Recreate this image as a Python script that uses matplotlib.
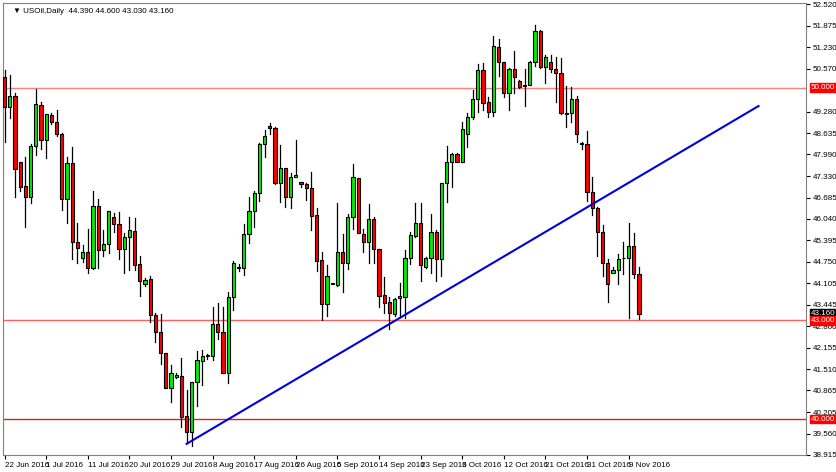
import matplotlib
matplotlib.use("Agg")
import matplotlib.pyplot as plt
from matplotlib.patches import Rectangle
from matplotlib import font_manager

names = {f.name for f in font_manager.fontManager.ttflist}
plt.rcParams['font.family'] = ['Liberation Sans Narrow' if 'Liberation Sans Narrow' in names else 'Liberation Sans', 'DejaVu Sans']

opens = [50.33,49.43,49.76,47.75,47.04,46.71,48.25,49.48,48.42,49.18,
         48.98,48.61,46.63,47.72,45.34,44.85,45.03,44.57,46.43,45.10,
         45.27,46.09,45.89,45.12,45.51,45.69,44.68,44.08,44.22,43.15,
         42.64,42.00,40.93,41.26,41.30,40.09,39.62,41.13,41.76,41.90,
         41.90,42.87,42.62,41.40,43.67,44.57,44.55,45.58,46.29,46.81,
         48.30,48.85,48.80,47.14,47.57,46.71,47.32,47.15,47.10,46.96,
         46.16,44.80,43.47,44.08,44.05,45.03,44.72,46.11,47.27,45.59,
         45.35,46.03,45.13,43.74,43.54,43.16,43.64,43.69,44.85,45.53,
         45.93,44.60,44.85,45.66,44.82,47.14,47.75,48.00,47.77,48.62,
         49.11,49.65,50.54,49.58,49.26,51.24,50.77,49.83,50.56,50.22,
         50.07,50.08,50.77,51.71,50.62,50.77,50.56,50.46,49.23,49.25,
         49.65,48.30,48.30,46.84,46.36,45.64,44.70,44.42,44.50,44.85,
         44.85,45.22,44.39]
highs = [50.54,50.39,49.83,47.75,47.92,48.30,49.95,49.58,49.20,49.23,
         49.33,48.63,47.92,48.22,45.93,45.25,45.73,46.88,46.63,45.71,
         46.28,46.21,46.25,45.61,46.09,46.06,44.92,44.25,44.32,43.21,
         43.17,42.00,41.63,41.38,41.83,40.88,41.13,42.06,42.08,41.96,
         43.37,43.49,43.37,43.82,44.77,44.67,45.89,46.71,46.89,48.32,
         48.73,48.93,48.82,48.27,47.57,47.42,48.42,47.17,47.14,47.45,
         46.36,45.05,44.65,44.09,46.53,45.58,46.19,47.70,47.27,45.73,
         46.49,46.09,45.13,44.30,43.69,43.66,44.10,45.10,45.66,46.51,
         46.51,44.90,46.19,45.71,47.14,48.25,48.02,48.02,48.98,49.25,
         49.93,50.71,50.74,49.73,51.56,51.46,50.79,50.59,51.11,50.24,
         50.56,50.82,51.90,51.74,50.99,50.99,50.92,50.89,50.05,50.01,
         49.76,48.37,48.71,47.30,46.41,45.85,44.82,44.60,44.98,45.35,
         45.93,45.61,44.60]
lows = [48.37,49.08,46.71,46.89,45.81,46.51,47.97,48.14,47.87,48.91,
        48.53,46.31,45.91,44.84,44.72,44.74,44.40,44.52,44.55,44.92,
        45.00,45.66,44.82,44.42,44.50,44.50,43.72,44.02,42.94,42.34,
        41.66,40.93,40.52,41.23,39.77,39.32,39.19,40.40,41.03,41.80,
        41.78,42.42,41.40,41.08,43.29,44.47,44.35,45.30,45.81,46.59,
        47.90,48.59,47.10,46.56,46.41,46.38,47.32,47.01,46.61,45.71,
        44.48,42.99,43.11,44.07,44.02,43.82,44.52,45.73,45.63,45.05,
        44.70,44.70,43.39,43.21,42.71,43.11,43.09,43.04,44.67,45.51,
        44.18,44.55,44.42,44.17,44.32,46.56,47.01,47.75,47.75,48.22,
        49.05,49.28,49.33,49.11,49.15,50.36,49.73,49.33,49.85,49.98,
        49.45,50.08,50.67,50.59,50.15,50.49,49.58,49.20,48.83,48.98,
        48.37,48.14,46.59,46.16,44.92,44.32,43.54,44.40,44.07,44.38,
        43.04,44.25,43.03]
closes = [49.43,49.76,47.54,47.02,46.71,48.25,49.51,48.42,49.20,48.98,
          48.60,46.63,47.72,45.34,45.17,45.05,44.57,46.43,45.10,45.27,
          46.28,45.88,45.12,45.51,45.71,44.65,44.17,44.20,43.15,42.64,
          41.98,40.93,41.40,41.33,40.07,39.62,41.13,41.78,41.91,41.91,
          42.87,42.62,41.40,43.69,44.70,44.58,45.58,46.29,46.81,48.30,
          48.54,48.78,47.14,47.57,46.71,47.30,47.37,47.10,46.96,46.13,
          44.78,43.47,44.32,44.09,45.03,44.72,46.11,47.30,45.63,45.35,
          46.03,45.12,43.72,43.51,43.19,43.61,43.71,44.85,45.56,45.93,
          44.65,44.85,45.66,44.82,47.14,47.75,48.00,47.77,48.75,49.11,
          49.65,50.54,49.53,49.26,51.26,50.77,49.83,50.56,50.32,50.03,
          50.06,50.77,51.71,50.62,50.92,50.57,50.46,49.25,49.22,49.65,
          48.60,48.31,46.86,46.36,45.64,44.72,44.07,44.50,44.82,44.86,
          45.23,44.38,43.16]

date_labels = ["22 Jun 2016","1 Jul 2016","11 Jul 2016","20 Jul 2016","29 Jul 2016",
               "8 Aug 2016","17 Aug 2016","26 Aug 2016","5 Sep 2016","14 Sep 2016",
               "23 Sep 2016","3 Oct 2016","12 Oct 2016","21 Oct 2016","31 Oct 2016","9 Nov 2016"]
price_ticks = [52.520,51.875,51.230,50.570,49.280,48.635,47.990,47.330,46.685,46.040,
               45.395,44.750,44.105,43.445,42.800,42.155,41.510,40.865,40.205,39.560,38.915]
levels = [50.0, 43.0, 40.0]
trend_x = [35, 145]
trend_y = [39.25, 49.45]

FS = 5.8
fig = plt.figure(figsize=(8.36, 4.72), dpi=100)
ax = fig.add_axes([3/836, 1-455/472, 803/836, 452/472])
ax.set_xlim(-0.3, -0.3 + 803/5.2)
ax.set_ylim(38.914, 52.56)

ax.axhline(levels[0], color="#ff8080", lw=1, zorder=1)
ax.axhline(levels[1], color="#ff6060", lw=1, zorder=1)
ax.axhline(levels[2], color="#e02020", lw=1, zorder=1)

w = 0.6
for i,(o,h,l,c) in enumerate(zip(opens,highs,lows,closes)):
    ax.plot([i,i],[l,h],color="black",lw=0.9,zorder=2)
    col = "#00ee00" if c >= o else "#ff0000"
    b = min(o,c); ht = max(abs(c-o), 0.02)
    ax.add_patch(Rectangle((i-w/2,b), w, ht, facecolor=col, edgecolor="black", lw=0.8, zorder=3))

ax.plot(trend_x, trend_y, color="#0000dd", lw=1.5, zorder=4)

ax.set_xticks([8*k for k in range(len(date_labels))])
ax.set_xticklabels(date_labels, fontsize=FS, ha="left")
ax.tick_params(axis="x", length=3, pad=2)
ax.yaxis.tick_right()
ax.set_yticks(price_ticks)
ax.set_yticklabels([f"{t:.3f}" for t in price_ticks], fontsize=FS)
ax.tick_params(axis="y", length=3, pad=2)
for s in ax.spines.values():
    s.set_color("#808080")

def tag(y, text, fc):
    ax.annotate(text, xy=(1, y), xycoords=("axes fraction","data"), xytext=(3.5,0),
                textcoords="offset points", va="center", ha="left", fontsize=FS,
                color="white", bbox=dict(boxstyle="square,pad=0.1", fc=fc, ec=fc),
                annotation_clip=False, zorder=10)
tag(43.2, "43.160", "black")
tag(50.0, "50.000", "#ff0000")
tag(42.97, "43.000", "#ff0000")
tag(40.0, "40.000", "#ff0000")

ax.text(0.012, 0.99, "\u25bc USOil,Daily  44.390 44.600 43.030 43.160", transform=ax.transAxes,
        fontsize=FS, va="top", ha="left")
fig.savefig("out.png", dpi=100)
